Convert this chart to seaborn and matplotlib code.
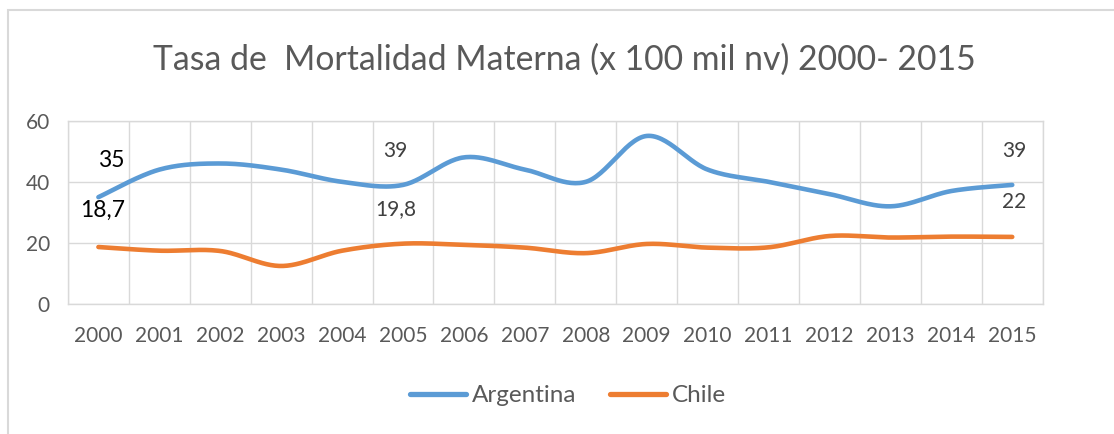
import numpy as np
import pandas as pd
import matplotlib
matplotlib.use("Agg")
import matplotlib.pyplot as plt
import seaborn as sns
from matplotlib.lines import Line2D
from matplotlib.patches import Rectangle

# DATA
years = [str(y) for y in range(2000, 2016)]
argentina = [35, 44, 46, 44, 40, 39, 48, 44, 40, 55, 44, 40, 36, 32, 37, 39]
chile = [18.7, 17.5, 17.4, 12.5, 17.5, 19.8, 19.4, 18.5, 16.7, 19.7, 18.5, 18.6, 22.3, 21.8, 22.1, 22]
series_names = ["Argentina", "Chile"]
colors = ["#5B9BD5", "#ED7D31"]
title = "Tasa de  Mortalidad Materna (x 100 mil nv) 2000- 2015"

sns.set_theme(style="white")
plt.rcParams["font.family"] = ["Lato", "DejaVu Sans"]
gray = "#595959"


def smooth(values, n=30):
    # Excel style smoothed line (uniform Catmull-Rom / Bezier with 1/6 tangents)
    p = np.asarray(values, dtype=float)
    x = np.arange(len(p), dtype=float)
    px = np.concatenate([[x[0]], x, [x[-1]]])
    py = np.concatenate([[p[0]], p, [p[-1]]])
    xs, ys = [], []
    t = np.linspace(0, 1, n)
    for i in range(1, len(px) - 2):
        b0x, b0y = px[i], py[i]
        b3x, b3y = px[i + 1], py[i + 1]
        b1x, b1y = b0x + (px[i + 1] - px[i - 1]) / 6, b0y + (py[i + 1] - py[i - 1]) / 6
        b2x, b2y = b3x - (px[i + 2] - px[i]) / 6, b3y - (py[i + 2] - py[i]) / 6
        xs.append((1 - t) ** 3 * b0x + 3 * (1 - t) ** 2 * t * b1x + 3 * (1 - t) * t ** 2 * b2x + t ** 3 * b3x)
        ys.append((1 - t) ** 3 * b0y + 3 * (1 - t) ** 2 * t * b1y + 3 * (1 - t) * t ** 2 * b2y + t ** 3 * b3y)
    return np.concatenate(xs), np.concatenate(ys)


frames = []
for name, vals in zip(series_names, [argentina, chile]):
    sx, sy = smooth(vals)
    frames.append(pd.DataFrame({"x": sx, "y": sy, "pais": name}))
df = pd.concat(frames, ignore_index=True)

fig = plt.figure(figsize=(11.14, 4.34), dpi=100)
ax = fig.add_axes([0.061, 0.299, 0.875, 0.423])

sns.lineplot(data=df, x="x", y="y", hue="pais", palette=colors, sort=False,
             linewidth=3.3, ax=ax, legend=False, estimator=None)
for ln in ax.lines:
    ln.set_solid_capstyle("round")

ax.set_xlim(-0.5, len(years) - 0.5)
ax.set_ylim(0, 60)
ax.set_yticks([0, 20, 40, 60])
ax.set_xticks(range(len(years)))
ax.set_xticklabels(years)
ax.set_xticks(np.arange(-0.5, len(years), 1), minor=True)
ax.grid(False)
ax.grid(True, which="minor", axis="x", color="#d9d9d9", linewidth=1)
ax.grid(True, which="major", axis="y", color="#d9d9d9", linewidth=1)
ax.set_axisbelow(True)
for s in ax.spines.values():
    s.set_color("#d9d9d9")
    s.set_linewidth(1)
ax.tick_params(axis="both", which="both", length=0, labelsize=15, labelcolor=gray)
ax.tick_params(axis="x", pad=16)
ax.tick_params(axis="y", pad=13)
ax.set_xlabel("")
ax.set_ylabel("")

# data labels
ax.text(0.21, 47, "35", ha="center", va="center", fontsize=16.5, color="black")
ax.text(0.07, 30.6, "18,7", ha="center", va="center", fontsize=16.5, color="black")
ax.text(4.87, 50.2, "39", ha="center", va="center", fontsize=15, color="#404040")
ax.text(4.88, 31, "19,8", ha="center", va="center", fontsize=15, color="#404040")
ax.text(15.03, 50.2, "39", ha="center", va="center", fontsize=15, color="#404040")
ax.text(15.03, 33.4, "22", ha="center", va="center", fontsize=15, color="#404040")

fig.text(0.507, 0.862, title, ha="center", va="center", fontsize=24.3, color=gray)

handles = [Line2D([0], [0], color=c, linewidth=3.8, solid_capstyle="round") for c in colors]
fig.legend(handles, series_names, loc="center", bbox_to_anchor=(0.51, 0.088), ncol=2,
           frameon=False, fontsize=17.5, labelcolor=gray, handlelength=2.3,
           handletextpad=0.25, columnspacing=1.4)

fig.patches.append(Rectangle((7.5 / 1114, -0.05), 1.1, 1 - 10.5 / 434 + 0.05,
                             transform=fig.transFigure, fill=False,
                             edgecolor="#d9d9d9", linewidth=1.5))

fig.savefig("out.png", dpi=100)
